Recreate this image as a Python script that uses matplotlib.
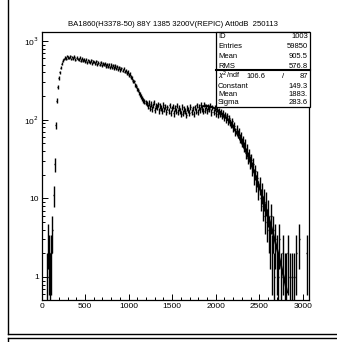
import numpy as np
import matplotlib.pyplot as plt
from matplotlib.patches import Rectangle
from matplotlib.lines import Line2D
from matplotlib.ticker import FixedLocator, NullFormatter, LogLocator

plt.rcParams['font.family'] = ['Liberation Sans', 'DejaVu Sans']

# histogram: 256 bins of width 12 over 0..3072 (counts)
bin_width = 12
x_min, x_max = 0, 3072
counts = [
    0, 0, 0, 0, 0, 1, 3, 2, 1, 2,
    4, 11, 27, 85, 175, 262, 338, 401, 458, 512,
    561, 592, 618, 596, 648, 622, 607, 641, 590, 626,
    600, 631, 582, 615, 590, 576, 613, 565, 597, 560,
    588, 553, 580, 541, 574, 547, 536, 569, 524, 551,
    542, 515, 551, 508, 533, 502, 538, 490, 525, 497,
    516, 482, 508, 474, 503, 466, 496, 459, 490, 454,
    481, 446, 473, 435, 464, 430, 452, 419, 443, 407,
    421, 391, 405, 368, 384, 347, 342, 313, 306, 277,
    266, 247, 238, 219, 208, 196, 187, 176, 172, 165,
    161, 148, 163, 141, 158, 137, 152, 166, 134, 150,
    146, 157, 131, 149, 140, 128, 154, 135, 147, 126,
    143, 131, 152, 122, 139, 147, 120, 141, 130, 151,
    125, 142, 128, 118, 145, 123, 138, 129, 116, 141,
    134, 121, 146, 126, 139, 119, 143, 131, 152, 127,
    145, 132, 153, 137, 128, 156, 134, 148, 129, 146,
    138, 151, 124, 143, 127, 141, 120, 135, 117, 131,
    118, 126, 112, 120, 108, 115, 101, 110, 96, 104,
    92, 88, 95, 79, 84, 71, 77, 66, 70, 58,
    61, 52, 55, 45, 49, 38, 43, 33, 36, 29,
    31, 24, 27, 19, 22, 16, 18, 13, 15, 10,
    12, 8, 10, 6, 9, 5, 7, 4, 3, 6,
    2, 4, 1, 3, 0, 2, 1, 3, 0, 1,
    2, 0, 1, 1, 0, 2, 0, 1, 0, 1,
    0, 1, 0, 2, 0, 0, 3, 0, 0, 0,
    0, 0, 0, 2, 0, 0,
]

title = "BA1860(H3378-50) 88Y 1385 3200V(REPIC) Att0dB  250113"
stats_top = [("ID", "1003"), ("Entries", "59850"), ("Mean", "905.5"), ("RMS", "576.8")]
chi2_ndf = ("106.6", "87")
fit_rows = [("Constant", "149.3"), ("Mean", "1883."), ("Sigma", "283.6")]
gaus_const, gaus_mean, gaus_sigma = 149.3, 1883.0, 283.6
fit_range = (1850, 2820)

W, H = 337, 342


def fx(px):
    return px / W


def fy(py):
    return 1 - py / H


fig = plt.figure(figsize=(W / 100, H / 100), dpi=100)
fig.patch.set_facecolor('white')

# canvas frames
fig.add_artist(Line2D([fx(8), fx(8)], [fy(-5), fy(334)], color='black', lw=1.0))
fig.add_artist(Line2D([fx(8), fx(340)], [fy(334), fy(334)], color='black', lw=1.0))
fig.add_artist(Line2D([fx(8), fx(340)], [fy(338), fy(338)], color='black', lw=1.0))
fig.add_artist(Line2D([fx(8), fx(8)], [fy(338), fy(345)], color='black', lw=1.0))

ax = fig.add_axes([fx(41.5), fy(300), fx(309) - fx(41.5), fy(32) - fy(300)])

counts = np.array(counts, dtype=float)
centers = x_min + bin_width * (np.arange(len(counts)) + 0.5)
keep = counts > 0
c = counts[keep]
xc = centers[keep]
err = np.sqrt(c)
y_lo = 0.51
lower = np.clip(c - err, 0.3, None)
upper = c + err
ax.vlines(xc, lower, upper, color='black', lw=1.0)
ax.hlines(c, xc - bin_width / 2, xc + bin_width / 2, color='black', lw=1.0)

# gaussian fit curve
xf = np.linspace(fit_range[0], fit_range[1], 300)
yf = gaus_const * np.exp(-0.5 * ((xf - gaus_mean) / gaus_sigma) ** 2)
ax.plot(xf, yf, color='black', lw=1.4)

ax.set_yscale('log')
ax.set_xlim(x_min, 3070)
ax.set_ylim(y_lo, 1302)

ax.xaxis.set_major_locator(FixedLocator([0, 500, 1000, 1500, 2000, 2500, 3000]))
ax.xaxis.set_minor_locator(FixedLocator(np.arange(0, 3070, 100)))
ax.set_xticklabels(['0', '500', '1000', '1500', '2000', '2500', '3000'])
ax.yaxis.set_major_locator(FixedLocator([1, 10, 100, 1000]))
ax.yaxis.set_minor_locator(LogLocator(base=10, subs=np.arange(2, 10)))
ax.yaxis.set_minor_formatter(NullFormatter())
ax.set_yticklabels(['1', '10', '10$^{2}$', '10$^{3}$'])

ax.tick_params(which='both', direction='in', top=False, right=False,
               labelsize=6, width=0.7, pad=2)
ax.tick_params(which='major', length=4.5)
ax.tick_params(which='minor', length=2.2)
for s in ax.spines.values():
    s.set_linewidth(0.9)

fig.text(fx(173), fy(25), title, ha='center', va='center', fontsize=5.6)

# stats box
fs = 5.5
bx0, bx1, by0, by1, ysep = 216, 310, 32, 107, 70
fig.add_artist(Rectangle((fx(bx0), fy(by1)), fx(bx1) - fx(bx0), fy(by0) - fy(by1),
                         facecolor='white', edgecolor='black', lw=0.9, zorder=5))
fig.add_artist(Line2D([fx(bx0), fx(bx1)], [fy(ysep), fy(ysep)], color='black', lw=1.5, zorder=6))
row_y = [37, 47, 57, 66]
for (lab, val), yy in zip(stats_top, row_y):
    fig.text(fx(218), fy(yy), lab, ha='left', va='center', fontsize=fs, zorder=7)
    fig.text(fx(308), fy(yy), val, ha='right', va='center', fontsize=fs, zorder=7)
fig.text(fx(218), fy(75.5), r'$\chi^2$/ndf', ha='left', va='center', fontsize=fs - 0.3, zorder=7)
fig.text(fx(265), fy(76), chi2_ndf[0], ha='right', va='center', fontsize=fs, zorder=7)
fig.text(fx(283), fy(76), '/', ha='center', va='center', fontsize=fs, zorder=7)
fig.text(fx(308), fy(76), chi2_ndf[1], ha='right', va='center', fontsize=fs, zorder=7)
for (lab, val), yy in zip(fit_rows, [86, 95, 103]):
    fig.text(fx(218), fy(yy), lab, ha='left', va='center', fontsize=fs, zorder=7)
    fig.text(fx(308), fy(yy), val, ha='right', va='center', fontsize=fs, zorder=7)

fig.savefig('out.png', dpi=100)
